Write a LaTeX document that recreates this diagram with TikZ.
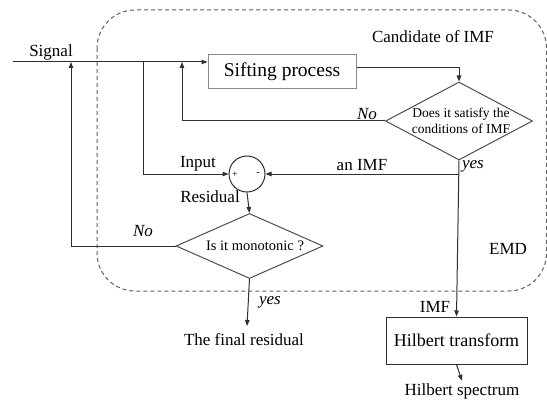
\documentclass[tikz,border=0pt]{standalone}
\usepackage{fontspec}
\setmainfont{Liberation Serif}
\usetikzlibrary{shapes.geometric,arrows.meta,calc}
\definecolor{ln}{HTML}{2E2E2E}
\definecolor{dsh}{HTML}{606060}
\definecolor{sbx}{HTML}{8A8A8A}
\begin{document}
\begin{tikzpicture}[x=1pt,y=-1pt,
  line width=1pt,
  arr/.style={draw=ln,-{Triangle[length=6pt,width=4.5pt]}},
  lbl/.style={inner sep=0pt,font=\fontsize{17}{19}\selectfont},
  ilbl/.style={inner sep=0pt,font=\fontsize{17}{19}\selectfont\itshape},
  dia/.style={diamond,draw=ln!85,inner sep=0pt},
  dtext/.style={inner sep=0pt,align=center},
]
\useasboundingbox (0,0) rectangle (547,404);
% EMD dashed region
\draw[dsh,dash pattern=on 4pt off 3pt,rounded corners=38pt] (97,10) rectangle (546.5,291);
% nodes
\node[draw=sbx,minimum width=148pt,minimum height=34pt,inner sep=0pt,
      font=\fontsize{19.5}{21}\selectfont] (sift) at (282,72) {Sifting process};
\node[dia,minimum width=147pt,minimum height=78pt] (d1) at (459,121) {};
\node[dtext,font=\fontsize{13.5}{15.5}\selectfont] (d1t) at (461,121) {Does it satisfy the\\conditions of IMF};
\node[circle,draw=ln,minimum size=36pt,inner sep=0pt] (circ) at (247,174) {};
\node[inner sep=0pt,font=\fontsize{10}{11}\selectfont] (plus) at (235,175) {+};
\node[inner sep=0pt,font=\fontsize{10}{11}\selectfont] (minus) at (258,174) {-};
\node[dia,minimum width=147pt,minimum height=65pt] (d2) at (249.5,246) {};
\node[dtext,font=\fontsize{14.5}{16}\selectfont] (d2t) at (255,246) {Is it monotonic ?};
\node[draw=ln,minimum width=141pt,minimum height=47pt,inner sep=0pt,
      font=\fontsize{18}{20}\selectfont] (hil) at (456.5,340.5) {Hilbert transform};
\node[lbl] (final) at (244,340) {The final residual};
\node[lbl] (spec) at (462,391) {Hilbert spectrum};
% labels
\node[lbl] (signal) at (51,52) {Signal};
\node[lbl] (cand) at (433,37) {Candidate of IMF};
\node[lbl] (emd) at (508,249) {EMD};
\node[lbl] (imf) at (435,307) {IMF};
\node[lbl] (animf) at (362,165) {an IMF};
\node[lbl] (input) at (198,164) {Input};
\node[lbl] (resid) at (210,197) {Residual};
\node[ilbl] (no1) at (367,114) {No};
\node[ilbl] (no2) at (143,231) {No};
\node[ilbl] (yes1) at (473,166) {yes};
\node[ilbl] (yes2) at (270,302) {yes};
% coordinates
\coordinate (s0) at (13,62);
\coordinate (j1) at (182,62);
\coordinate (j2) at (143,62);
\coordinate (j3) at (71,62);
\coordinate (j4) at (459,174);
\coordinate (fin) at (247,326);
\coordinate (so) at ($(sift.east)+(0,-4)$);
% connectors
\draw[arr] (s0) -- (s0 -| sift.west);
\draw[arr] (so) -| (d1.north);
\draw[arr] (d1.west) -| (j1);
\draw[arr] (j2) |- (circ.west);
\draw[arr] (j4) -- (circ.east);
\draw[arr] (d1.south) -- (hil.north);
\draw[arr] (circ.south) -- (d2.north);
\draw[arr] (d2.west) -| (j3);
\draw[arr] (d2.south) -- (fin);
\draw[arr] (hil.south) -- ($(spec.north)+(0,-2)$);
\end{tikzpicture}
\end{document}
